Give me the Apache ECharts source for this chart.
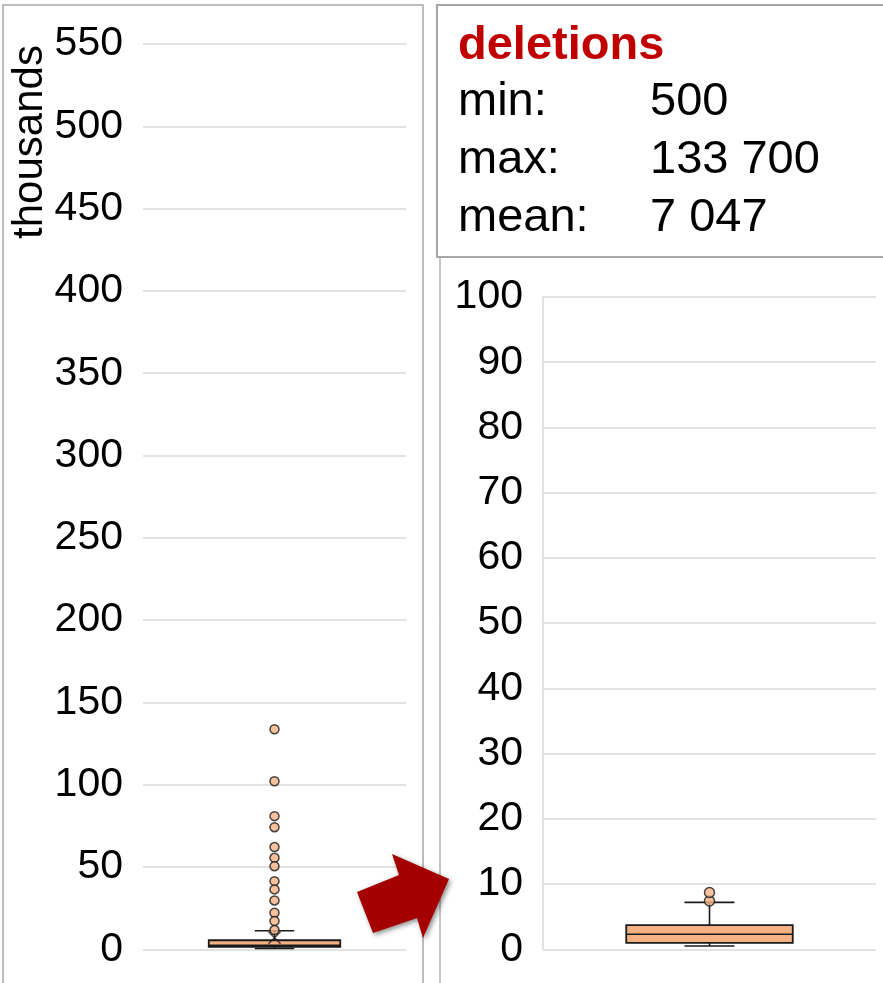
<!DOCTYPE html>
<html>
<head>
<meta charset="utf-8">
<script src="https://cdn.jsdelivr.net/npm/echarts@6/dist/echarts.min.js"></script>
<style>
  html, body { margin: 0; padding: 0; background: #fff; }
  #chart { width: 883px; height: 983px; }
</style>
</head>
<body>
<div id="chart"></div>
<script>
// Deletions per item, in thousands.
const category = ['deletions'];

// Full range view: [min, Q1, median, Q3, upper whisker]
const fullBox = [0.5, 1.5, 2.5, 5.5, 11.3];
const fullOutliers = [133.7, 102.1, 80.9, 74.2, 62.1, 55.6, 50.5, 41.4, 36.4, 29.7, 22.2, 17.2, 11.7];
const fullMean = 7.047;

// Close-up view (0–100)
const zoomBox = [0.5, 1.0, 2.3, 3.7, 7.2];
const zoomOutliers = [7.4, 8.7];

// Summary panel
const statLabels = ['min:', 'max:', 'mean:'];
const statValues = ['500', '133 700', '7 047'];

const FONT = '"Liberation Sans", Arial, Helvetica, sans-serif';
const BOX_FILL = '#F4B183';
const INK = '#1a1a1a';
const GRID_LINE = '#d9d9d9';

function renderBox(params, api) {
  const c = api.value(0);
  const lo = api.coord([c, api.value(1)]);
  const q1 = api.coord([c, api.value(2)]);
  const md = api.coord([c, api.value(3)]);
  const q3 = api.coord([c, api.value(4)]);
  const hi = api.coord([c, api.value(5)]);
  const band = api.size([1, 0])[0];
  const hw = band * 0.25;
  const cw = band * 0.075;
  const cx = lo[0];
  const seg = (x1, y1, x2, y2) => ({
    type: 'line', shape: { x1, y1, x2, y2 },
    style: { stroke: INK, lineWidth: 1.6 }
  });
  return {
    type: 'group',
    children: [
      seg(cx, hi[1], cx, q3[1]),
      seg(cx, q1[1], cx, lo[1]),
      seg(cx - cw, hi[1], cx + cw, hi[1]),
      seg(cx - cw, lo[1], cx + cw, lo[1]),
      {
        type: 'rect',
        shape: { x: cx - hw, y: q3[1], width: 2 * hw, height: q1[1] - q3[1] },
        style: { fill: BOX_FILL, stroke: INK, lineWidth: 1.8 }
      },
      seg(cx - hw, md[1], cx + hw, md[1])
    ]
  };
}

function valueAxis(gridIndex, max, interval, showLine) {
  return {
    type: 'value', gridIndex, min: 0, max, interval,
    axisLine: { show: showLine, lineStyle: { color: GRID_LINE, width: 1.5 } },
    axisTick: { show: false },
    axisLabel: { color: '#000', fontSize: 41, fontFamily: FONT, margin: 20 },
    splitLine: { show: true, lineStyle: { color: GRID_LINE, width: 1.5 } }
  };
}

function catAxis(gridIndex) {
  return {
    type: 'category', gridIndex, data: category,
    axisLine: { show: false }, axisTick: { show: false },
    axisLabel: { show: false }, splitLine: { show: false }
  };
}

const outlierStyle = { color: BOX_FILL, borderColor: INK, borderWidth: 1.5 };

const statText = [];
statLabels.forEach((lab, i) => {
  const top = 79 + i * 58;
  statText.push({
    type: 'text', left: 458, top, z: 10,
    style: { text: lab, font: '47px ' + FONT, fill: '#000' }
  });
  statText.push({
    type: 'text', left: 650, top, z: 10,
    style: { text: statValues[i], font: '47px ' + FONT, fill: '#000' }
  });
});

const option = {
  animation: false,
  backgroundColor: '#fff',
  grid: [
    { left: 143, right: 477, top: 44, bottom: 33.7 },
    { left: 543, right: 7, top: 297, bottom: 33.7 }
  ],
  xAxis: [catAxis(0), catAxis(1)],
  yAxis: [valueAxis(0, 550, 50, false), valueAxis(1, 100, 10, true)],
  series: [
    {
      type: 'custom', xAxisIndex: 0, yAxisIndex: 0,
      renderItem: renderBox,
      encode: { x: 0, y: [1, 2, 3, 4, 5] },
      data: [[0].concat(fullBox)], z: 2
    },
    {
      type: 'scatter', xAxisIndex: 0, yAxisIndex: 0,
      symbol: 'circle', symbolSize: 9,
      itemStyle: outlierStyle,
      data: fullOutliers.map(v => [0, v]), z: 3
    },
    {
      type: 'scatter', xAxisIndex: 0, yAxisIndex: 0,
      symbol: 'path://M0,0L10,10M10,0L0,10', symbolSize: 12,
      itemStyle: { color: 'none', borderColor: INK, borderWidth: 1.5 },
      data: [[0, fullMean]], z: 4
    },
    {
      type: 'custom', xAxisIndex: 1, yAxisIndex: 1,
      renderItem: renderBox,
      encode: { x: 0, y: [1, 2, 3, 4, 5] },
      data: [[0].concat(zoomBox)], z: 2
    },
    {
      type: 'scatter', xAxisIndex: 1, yAxisIndex: 1,
      symbol: 'circle', symbolSize: 10,
      itemStyle: outlierStyle,
      data: zoomOutliers.map(v => [0, v]), z: 3
    }
  ],
  graphic: [
    // panel frames
    { type: 'rect', shape: { x: 3, y: 5, width: 420, height: 1000 },
      style: { fill: 'none', stroke: '#a6a6a6', lineWidth: 1.5 }, z: 0 },
    { type: 'rect', shape: { x: 440, y: 257, width: 470, height: 760 },
      style: { fill: 'none', stroke: '#8c8c8c', lineWidth: 1 }, z: 0 },
    { type: 'rect', shape: { x: 437, y: 5, width: 470, height: 252 },
      style: { fill: '#fff', stroke: '#a6a6a6', lineWidth: 2 }, z: 1 },
    // axis unit
    { type: 'text', x: 30, y: 142, rotation: Math.PI / 2, z: 10,
      style: { text: 'thousands', font: '42px ' + FONT, fill: '#000',
               align: 'center', verticalAlign: 'middle' } },
    // summary heading
    { type: 'text', left: 458, top: 23, z: 10,
      style: { text: 'deletions', font: 'bold 47px ' + FONT, fill: '#C00000' } },
    ...statText,
    // pointer from the full view to the close-up
    { type: 'polygon', z: 20,
      shape: { points: [[357, 892], [399, 875], [392, 854], [449, 879], [423, 938], [417, 918], [373, 933]] },
      style: { fill: '#A50000', shadowBlur: 5, shadowColor: 'rgba(0,0,0,0.45)', shadowOffsetX: 2, shadowOffsetY: 2 } }
  ]
};

const chart = echarts.init(document.getElementById('chart'), null, { renderer: 'canvas' });
chart.setOption(option);
</script>
</body>
</html>
